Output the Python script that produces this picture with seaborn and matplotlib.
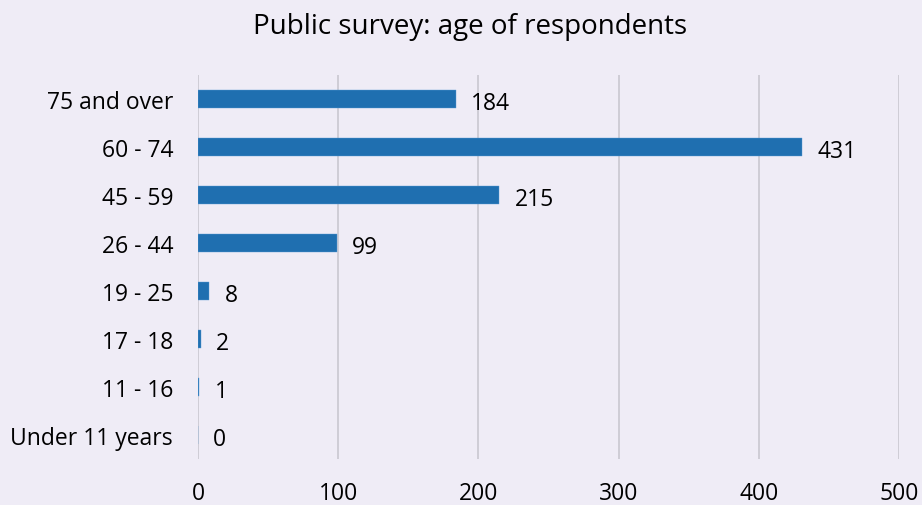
import matplotlib
matplotlib.use("Agg")
import matplotlib.pyplot as plt
import seaborn as sns
import pandas as pd

age_groups = ["75 and over", "60 - 74", "45 - 59", "26 - 44", "19 - 25",
              "17 - 18", "11 - 16", "Under 11 years"]
respondents = [184, 431, 215, 99, 8, 2, 1, 0]
x_ticks = [0, 100, 200, 300, 400, 500]

BG = "#EFECF6"
BAR = "#1F6FB0"
GRID = "#CCCAD3"

sns.set_theme(style="white")
plt.rcParams["font.family"] = ["Open Sans", "DejaVu Sans"]

df = pd.DataFrame({"age": age_groups, "count": respondents})

fig = plt.figure(figsize=(9.22, 5.06), dpi=100, facecolor=BG)
ax = fig.add_axes([0.2148, 0.0909, 0.7603, 0.7589])
ax.set_facecolor(BG)

sns.barplot(data=df, x="count", y="age", order=age_groups, color=BAR,
            saturation=1, width=0.36, ax=ax, edgecolor="#5B9BD5", linewidth=0.3)

ax.set_xlim(0, 500)
ax.set_ylim(len(age_groups) - 0.5, -0.5)
ax.set_xticks(x_ticks)
ax.set_xticklabels([str(t) for t in x_ticks])
ax.xaxis.grid(True, color=GRID, linewidth=1.3)
ax.set_axisbelow(True)
for s in ax.spines.values():
    s.set_visible(False)
ax.set_xlabel("")
ax.set_ylabel("")
ax.tick_params(axis="x", length=0, pad=16, labelsize=16.5, colors="#000000")
ax.tick_params(axis="y", length=0, pad=18, labelsize=16.5, colors="#000000")

for i, v in enumerate(respondents):
    ax.annotate(str(v), xy=(v, i), xytext=(11, -3), textcoords="offset points",
                ha="left", va="center", fontsize=16.5, color="#000000")

fig.suptitle("Public survey: age of respondents", x=0.51, y=0.975,
             fontsize=20, color="#000000")

fig.savefig("out.png", dpi=100, facecolor=BG)
